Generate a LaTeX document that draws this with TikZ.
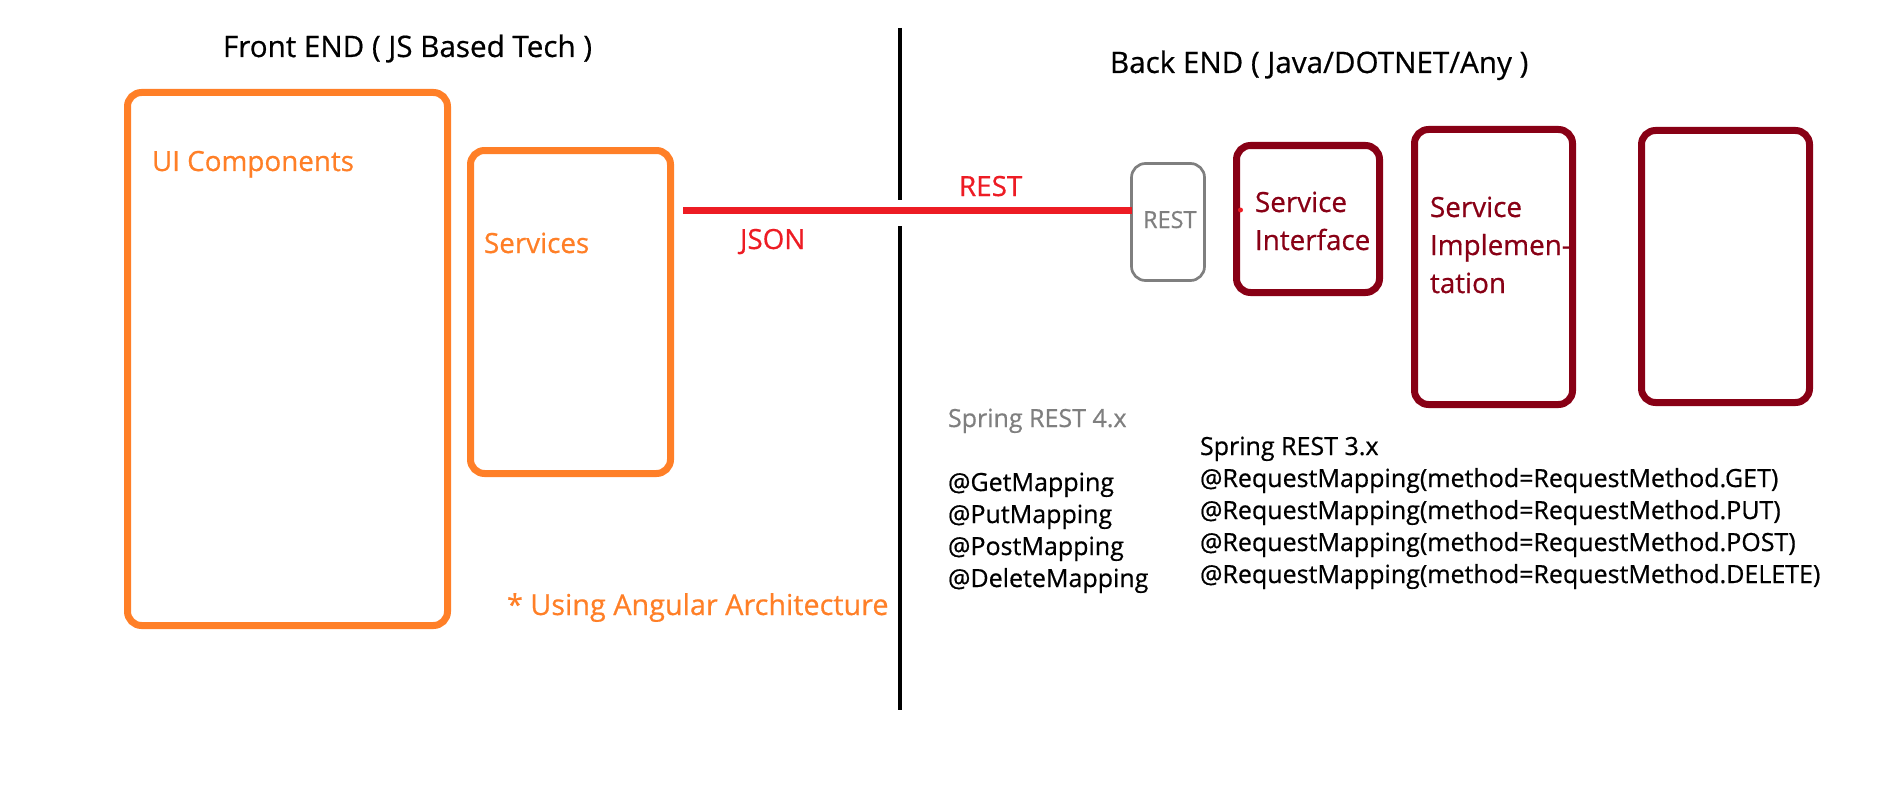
\documentclass[tikz,border=0pt]{standalone}
\usepackage{fontspec}
\setmainfont{Open Sans}[FakeBold=0.6]
\usetikzlibrary{calc}
\definecolor{cOrange}{HTML}{FF7F27}
\definecolor{cRed}{HTML}{ED1C24}
\definecolor{cDark}{HTML}{880015}
\definecolor{cGrey}{HTML}{7F7F7F}
\tikzset{
  box/.style={draw=#1, line width=7pt, rounded corners=14pt, inner sep=0pt, outer sep=0pt, fill=none},
  greybox/.style={draw=cGrey, line width=2.7pt, rounded corners=14pt, inner sep=0pt, outer sep=0pt},
  lbl/.style={anchor=base west, inner sep=0pt, outer sep=0pt, font=\fontsize{25}{30}\selectfont},
  big/.style={lbl, font=\fontsize{27.8}{33}\selectfont},
  ttl/.style={lbl, font=\fontsize{29.6}{35}\selectfont},
}
\begin{document}
\begin{tikzpicture}[x=1pt, y=-1pt]
\useasboundingbox (0,0) rectangle (1892,797);
% boxes (centre-line coordinates)
\node[box=cOrange, minimum width=320pt, minimum height=533pt] (ui) at (287.5,359) {};
\node[box=cOrange, minimum width=200pt, minimum height=323pt] (services) at (570.5,312) {};
\node[greybox, minimum width=73pt, minimum height=117pt] (restbox) at (1168,222) {};
\node[box=cDark, minimum width=143pt, minimum height=147pt] (si) at (1308,219) {};
\node[box=cDark, minimum width=158pt, minimum height=275pt] (impl) at (1493.5,267) {};
\node[box=cDark, minimum width=168pt, minimum height=272pt] (empty) at (1725.5,266.5) {};
% divider
\coordinate (vtop) at (900,28);
\coordinate (vgapA) at (900,200);
\coordinate (vgapB) at (900,226);
\coordinate (vbot) at (900,710);
\draw[line width=4.5pt] (vtop) -- (vgapA);
\draw[line width=4.5pt] (vgapB) -- (vbot);
% REST connector
\coordinate (lineL) at (683,210);
\draw[cRed, line width=7pt] (lineL) -- (lineL -| restbox.west);
\fill[cRed] ($(si.west |- lineL)+(4,0)$) circle (2.5pt);
% titles
\node[ttl] (fe) at (223,57) {Front END ( JS Based Tech )};
\node[ttl] (be) at (1110,73) {Back END ( Java/DOTNET/Any )};
% front labels
\node[big, text=cOrange] (uil) at (152,171) {UI Components};
\node[big, text=cOrange] (svl) at (484,253) {Services};
\node[big, text=cRed] (json) at (740,249) {JSON};
\node[big, text=cRed] (restl) at (959,196) {REST};
\node[lbl, text=cGrey, font=\fontsize{23.5}{28}\selectfont] (restt) at (1143,228) {REST};
\node[big, text=cDark] (si1) at (1255,212) {Service};
\node[big, text=cDark] (si2) at (1255,250) {Interface};
\node[big, text=cDark] (im1) at (1430,217) {Service};
\node[big, text=cDark] (im2) at (1430,255) {Implemen-};
\node[big, text=cDark] (im3) at (1430,293) {tation};
\node[lbl, text=cOrange, font=\fontsize{28.8}{34}\selectfont] (ang) at (507,615) {* Using Angular Architecture};
% spring 4
\node[lbl, text=cGrey] (s4) at (948,427) {Spring REST 4.x};
\node[lbl] (g4) at (948,491) {@GetMapping};
\node[lbl] (p4) at (948,523) {@PutMapping};
\node[lbl] (po4) at (948,555) {@PostMapping};
\node[lbl] (d4) at (948,587) {@DeleteMapping};
% spring 3
\node[lbl] (s3) at (1200,455) {Spring REST 3.x};
\node[lbl] (g3) at (1200,487) {@RequestMapping(method=RequestMethod.GET)};
\node[lbl] (p3) at (1200,519) {@RequestMapping(method=RequestMethod.PUT)};
\node[lbl] (po3) at (1200,551) {@RequestMapping(method=RequestMethod.POST)};
\node[lbl] (d3) at (1200,583) {@RequestMapping(method=RequestMethod.DELETE)};
\end{tikzpicture}
\end{document}
